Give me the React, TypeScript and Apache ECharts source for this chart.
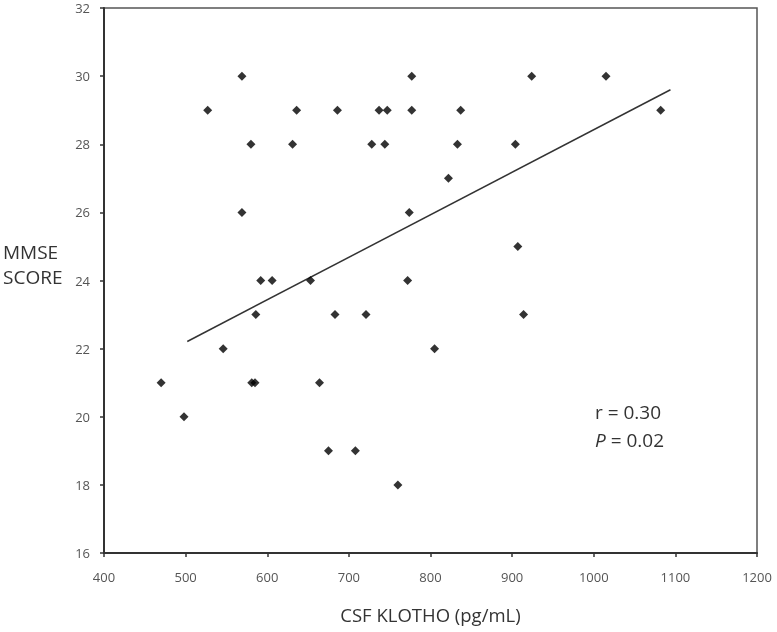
import React, { useEffect, useRef } from "react";
import * as echarts from "echarts";

// CSF Klotho (pg/mL) vs MMSE score
const klotho: number[] = [
  569, 777, 924, 1015,
  527, 636, 686, 737, 747, 777, 837, 1082,
  580, 631, 728, 744, 833, 904,
  822,
  569, 774,
  907,
  592, 606, 653, 772,
  586, 683, 721, 914,
  546, 805,
  470, 581, 585, 664,
  498,
  675, 708,
  760,
];
const mmse: number[] = [
  30, 30, 30, 30,
  29, 29, 29, 29, 29, 29, 29, 29,
  28, 28, 28, 28, 28, 28,
  27,
  26, 26,
  25,
  24, 24, 24, 24,
  23, 23, 23, 23,
  22, 22,
  21, 21, 21, 21,
  20,
  19, 19,
  18,
];
const trendX: number[] = [502, 1094];
const trendY: number[] = [22.21, 29.6];
const statR = "r = 0.30";
const statP = "0.02";

export default function App() {
  const ref = useRef<HTMLDivElement>(null);
  useEffect(() => {
    if (!ref.current) return;
    const chart = echarts.init(ref.current, null, { renderer: "svg" });
    const font = "'Open Sans', 'Liberation Sans', sans-serif";
    chart.setOption({
      animation: false,
      grid: { left: 104, right: 20, top: 8, bottom: 79, show: true, borderColor: "#555", borderWidth: 1.5, backgroundColor: "#fff" },
      xAxis: {
        type: "value",
        min: 400,
        max: 1200,
        interval: 100,
        name: "CSF KLOTHO (pg/mL)",
        nameLocation: "middle",
        nameGap: 52,
        nameTextStyle: { fontFamily: font, fontSize: 18.5, color: "#333" },
        axisLine: { show: true, onZero: false, lineStyle: { color: "#333", width: 2 } },
        axisTick: { show: true, inside: false, length: 4, lineStyle: { color: "#333", width: 1.5 } },
        axisLabel: { fontFamily: font, fontSize: 13, color: "#555", margin: 17, formatter: (v: number) => String(v) },
        splitLine: { show: false },
      },
      yAxis: {
        type: "value",
        min: 16,
        max: 32,
        interval: 2,
        axisLine: { show: true, onZero: false, lineStyle: { color: "#333", width: 2 } },
        axisTick: { show: true, inside: false, length: 4, lineStyle: { color: "#333", width: 1.5 } },
        axisLabel: { fontFamily: font, fontSize: 13, color: "#555", margin: 14, formatter: (v: number) => String(v) },
        splitLine: { show: false },
      },
      graphic: [
        {
          type: "text",
          left: 3,
          top: 239,
          style: { text: "MMSE\nSCORE", fontFamily: font, fontSize: 19, lineHeight: 25, fill: "#333" },
        },
        {
          type: "text",
          left: 595,
          top: 398,
          style: {
            text: "{n|" + statR + "}\n{i|P}{n| = " + statP + "}",
            fontFamily: font,
            fontSize: 19,
            lineHeight: 28,
            fill: "#333",
            rich: {
              n: { fontFamily: font, fontSize: 19, fill: "#333", lineHeight: 28 },
              i: { fontFamily: font, fontSize: 19, fill: "#333", fontStyle: "italic", lineHeight: 28 },
            },
          },
        },
      ],
      series: [
        {
          type: "line",
          data: trendX.map((x, i) => [x, trendY[i]]),
          showSymbol: false,
          symbol: "none",
          lineStyle: { color: "#333", width: 1.5 },
          z: 2,
        },
        {
          type: "scatter",
          data: klotho.map((x, i) => [x, mmse[i]]),
          symbol: "diamond",
          symbolSize: 9,
          itemStyle: { color: "#000" },
          z: 3,
        },
      ],
    });
    return () => chart.dispose();
  }, []);
  return <div ref={ref} style={{ position: "fixed", left: 0, top: 0, width: 777, height: 632 }} />;
}
